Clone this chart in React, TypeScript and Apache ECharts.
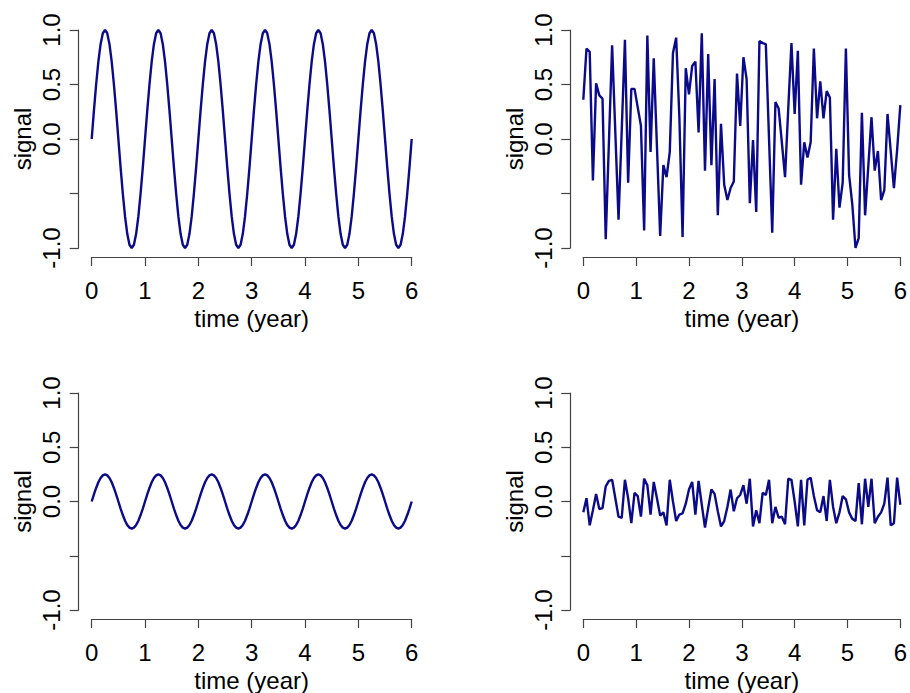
import React, { useEffect, useRef } from "react";
import * as echarts from "echarts";

// ---------- data ----------
const xTicks = [0, 1, 2, 3, 4, 5, 6];
const yTickLabels: Record<string, string> = { "1": "1.0", "0.5": "0.5", "0": "0.0", "-0.5": "", "-1": "-1.0" };

const sineStep = 1 / 24; // years between samples of the clean signals
const sineLarge = [
  0, 0.26, 0.5, 0.71, 0.87, 0.97, 1, 0.97, 0.87, 0.71, 0.5, 0.26, 0, -0.26, -0.5, -0.71, -0.87, -0.97, -1, -0.97, -0.87, -0.71, -0.5, -0.26,
  0, 0.26, 0.5, 0.71, 0.87, 0.97, 1, 0.97, 0.87, 0.71, 0.5, 0.26, 0, -0.26, -0.5, -0.71, -0.87, -0.97, -1, -0.97, -0.87, -0.71, -0.5, -0.26,
  0, 0.26, 0.5, 0.71, 0.87, 0.97, 1, 0.97, 0.87, 0.71, 0.5, 0.26, 0, -0.26, -0.5, -0.71, -0.87, -0.97, -1, -0.97, -0.87, -0.71, -0.5, -0.26,
  0, 0.26, 0.5, 0.71, 0.87, 0.97, 1, 0.97, 0.87, 0.71, 0.5, 0.26, 0, -0.26, -0.5, -0.71, -0.87, -0.97, -1, -0.97, -0.87, -0.71, -0.5, -0.26,
  0, 0.26, 0.5, 0.71, 0.87, 0.97, 1, 0.97, 0.87, 0.71, 0.5, 0.26, 0, -0.26, -0.5, -0.71, -0.87, -0.97, -1, -0.97, -0.87, -0.71, -0.5, -0.26,
  0, 0.26, 0.5, 0.71, 0.87, 0.97, 1, 0.97, 0.87, 0.71, 0.5, 0.26, 0, -0.26, -0.5, -0.71, -0.87, -0.97, -1, -0.97, -0.87, -0.71, -0.5, -0.26,
  0,
];
const sineSmall = [
  0, 0.065, 0.125, 0.177, 0.217, 0.241, 0.25, 0.241, 0.217, 0.177, 0.125, 0.065, 0, -0.065, -0.125, -0.177, -0.217, -0.241, -0.25, -0.241, -0.217, -0.177, -0.125, -0.065,
  0, 0.065, 0.125, 0.177, 0.217, 0.241, 0.25, 0.241, 0.217, 0.177, 0.125, 0.065, 0, -0.065, -0.125, -0.177, -0.217, -0.241, -0.25, -0.241, -0.217, -0.177, -0.125, -0.065,
  0, 0.065, 0.125, 0.177, 0.217, 0.241, 0.25, 0.241, 0.217, 0.177, 0.125, 0.065, 0, -0.065, -0.125, -0.177, -0.217, -0.241, -0.25, -0.241, -0.217, -0.177, -0.125, -0.065,
  0, 0.065, 0.125, 0.177, 0.217, 0.241, 0.25, 0.241, 0.217, 0.177, 0.125, 0.065, 0, -0.065, -0.125, -0.177, -0.217, -0.241, -0.25, -0.241, -0.217, -0.177, -0.125, -0.065,
  0, 0.065, 0.125, 0.177, 0.217, 0.241, 0.25, 0.241, 0.217, 0.177, 0.125, 0.065, 0, -0.065, -0.125, -0.177, -0.217, -0.241, -0.25, -0.241, -0.217, -0.177, -0.125, -0.065,
  0, 0.065, 0.125, 0.177, 0.217, 0.241, 0.25, 0.241, 0.217, 0.177, 0.125, 0.065, 0, -0.065, -0.125, -0.177, -0.217, -0.241, -0.25, -0.241, -0.217, -0.177, -0.125, -0.065,
  0,
];

const noiseStep = 6 / 99; // 100 samples over 6 years
const noiseLarge = [
  0.36, 0.83, 0.8, -0.38, 0.51, 0.4, 0.37, -0.92, -0.03, 0.86,
  0.06, -0.74, 0.08, 0.91, -0.4, 0.46, 0.46, 0.29, 0.12, -0.84,
  0.95, -0.12, 0.74, -0.07, -0.89, -0.24, -0.35, -0.12, 0.79, 0.93,
  0.2, -0.9, 0.65, 0.41, 0.67, 0.71, 0.06, 0.97, -0.29, 0.78,
  -0.24, 0.55, -0.7, 0.14, -0.42, -0.56, -0.45, -0.39, 0.6, 0.12,
  0.75, 0.55, -0.59, -0.01, -0.67, 0.9, 0.88, 0.87, 0.0, -0.86,
  0.34, 0.28, -0.03, -0.35, 0.28, 0.88, 0.23, 0.81, -0.42, -0.03,
  -0.17, -0.03, 0.83, 0.19, 0.53, 0.19, 0.44, 0.38, -0.74, -0.09,
  -0.63, -0.4, 0.83, -0.33, -0.6, -1.0, -0.91, 0.24, -0.7, -0.25,
  0.2, -0.29, -0.11, -0.56, -0.47, 0.23, -0.11, -0.45, -0.1, 0.31,
];
const noiseSmall = [
  -0.1, 0.03, -0.22, -0.08, 0.07, -0.07, -0.06, 0.14, 0.19, 0.2,
  0.03, -0.14, -0.15, 0.2, 0.03, -0.2, 0.08, 0.05, -0.14, 0.21,
  0.15, -0.12, 0.18, 0.03, -0.13, -0.1, -0.22, 0.2, 0.0, -0.18,
  -0.12, -0.11, -0.02, 0.11, 0.18, -0.12, 0.19, -0.03, -0.24, -0.06,
  0.11, 0.07, -0.09, -0.23, -0.18, -0.05, 0.11, -0.09, 0.03, 0.06,
  0.15, -0.02, 0.21, -0.23, -0.08, -0.2, 0.08, 0.06, 0.2, -0.2,
  -0.05, -0.15, -0.14, -0.21, 0.21, 0.2, 0.0, -0.23, 0.2, -0.22,
  0.2, 0.22, 0.05, -0.08, -0.1, 0.05, -0.18, 0.2, -0.05, -0.2,
  -0.1, 0.05, 0.02, -0.1, -0.16, -0.18, 0.17, -0.21, 0.21, -0.05,
  0.21, -0.2, -0.14, -0.1, -0.02, 0.22, -0.22, -0.2, 0.22, -0.03,
];

const panels = [
  { values: sineLarge, step: sineStep },
  { values: noiseLarge, step: noiseStep },
  { values: sineSmall, step: sineStep },
  { values: noiseSmall, step: noiseStep },
];

// ---------- layout / style ----------
const FONT = "'Liberation Sans', Arial, Helvetica, sans-serif";
const FS = 24;
const LINE_COLOR = "#0b0b8a";
const AXIS_COLOR = "#444";
const gridPos = [
  { left: 91.7, top: 30 },
  { left: 583.3, top: 30 },
  { left: 91.7, top: 393 },
  { left: 583.3, top: 393 },
];

export default function App() {
  const ref = useRef<HTMLDivElement>(null);

  useEffect(() => {
    if (!ref.current) return;
    const chart = echarts.init(ref.current, undefined, { renderer: "svg" });

    const grid = gridPos.map((g) => ({ left: g.left, top: g.top, width: 320, height: 218 }));

    const xAxis = gridPos.map((_, i) => ({
      type: "value",
      gridIndex: i,
      min: xTicks[0],
      max: xTicks[xTicks.length - 1],
      interval: 1,
      position: "bottom",
      offset: 9,
      name: "time (year)",
      nameLocation: "middle",
      nameGap: 49,
      nameTextStyle: { fontFamily: FONT, fontSize: FS, color: "#000" },
      axisLine: { show: true, onZero: false, lineStyle: { color: AXIS_COLOR, width: 1.2 } },
      axisTick: { show: true, length: 9, lineStyle: { color: AXIS_COLOR, width: 1.2 } },
      axisLabel: { fontFamily: FONT, fontSize: FS, color: "#000", margin: 21 },
      splitLine: { show: false },
    }));

    const yAxis = gridPos.map((_, i) => ({
      type: "value",
      gridIndex: i,
      min: -1,
      max: 1,
      interval: 0.5,
      position: "left",
      offset: 13,
      name: "signal",
      nameLocation: "middle",
      nameRotate: 90,
      nameGap: 44,
      nameTextStyle: { fontFamily: FONT, fontSize: FS, color: "#000" },
      axisLine: { show: true, onZero: false, lineStyle: { color: AXIS_COLOR, width: 1.2 } },
      axisTick: { show: true, length: 9, lineStyle: { color: AXIS_COLOR, width: 1.2 } },
      axisLabel: {
        fontFamily: FONT,
        fontSize: FS,
        color: "#000",
        rotate: 90,
        margin: 15,
        formatter: (v: number) => {
          const key = String(Math.round(v * 10) / 10);
          return key in yTickLabels ? yTickLabels[key] : v.toFixed(1);
        },
      },
      splitLine: { show: false },
    }));

    const series = panels.map((p, i) => ({
      type: "line",
      xAxisIndex: i,
      yAxisIndex: i,
      data: p.values.map((v, k) => [k * p.step, v]),
      showSymbol: false,
      lineStyle: { color: LINE_COLOR, width: 2.4 },
      silent: true,
    }));

    chart.setOption({
      animation: false,
      backgroundColor: "#fff",
      grid,
      xAxis,
      yAxis,
      series,
    } as any);

    return () => chart.dispose();
  }, []);

  return (
    <div
      ref={ref}
      style={{ position: "fixed", left: 0, top: 0, width: 910, height: 693, background: "#fff" }}
    />
  );
}
